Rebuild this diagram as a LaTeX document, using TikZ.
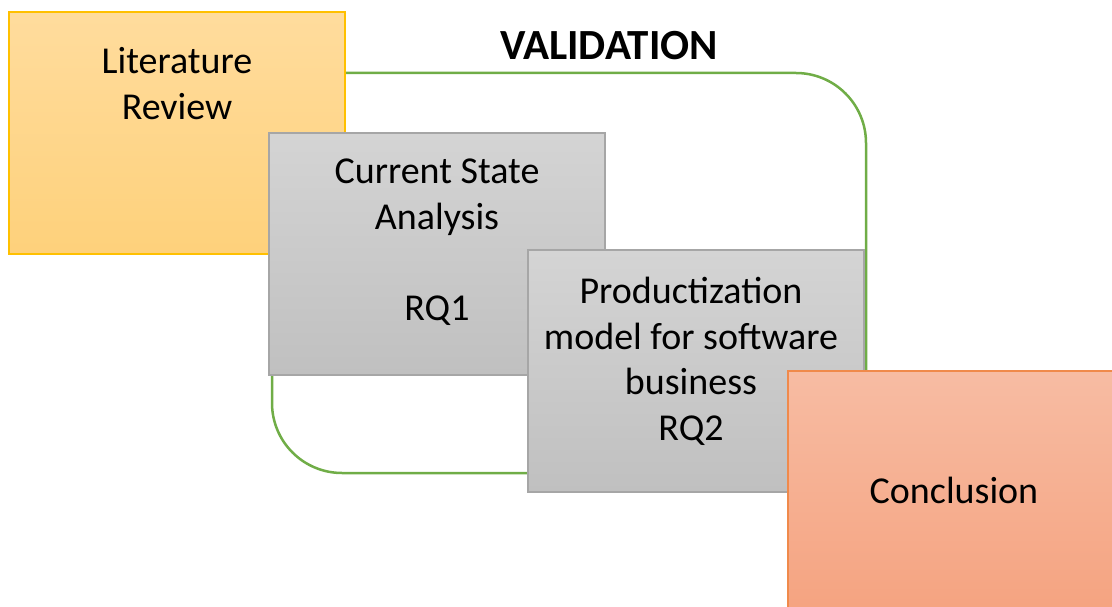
\documentclass[tikz,border=0pt]{standalone}
\usepackage{fontspec}
\setmainfont{Carlito}
\definecolor{verde}{HTML}{70AD47}
\definecolor{amarillo}{HTML}{FFC000}
\definecolor{amarilloA}{HTML}{FFDC9D}
\definecolor{amarilloB}{HTML}{FED17B}
\definecolor{gris}{HTML}{A6A6A6}
\definecolor{grisA}{HTML}{D4D4D4}
\definecolor{grisB}{HTML}{C0C0C0}
\definecolor{naranja}{HTML}{F08A4B}
\definecolor{naranjaA}{HTML}{F7BCA3}
\definecolor{naranjaB}{HTML}{F5A380}
\begin{document}
\begin{tikzpicture}[x=1pt,y=-1pt,
	caja/.style={minimum width=336pt, minimum height=242pt, inner sep=0pt, outer sep=0pt, anchor=north west, line width=1.2pt},
	texto/.style={anchor=base, align=center, inner sep=0pt, font=\fontsize{38}{45.5}\selectfont}]
	\useasboundingbox (0,0) rectangle (1112,607);
	
	% Marco de validación
	\node[draw=verde, line width=2.5pt, rounded corners=70pt, minimum width=594pt, minimum height=400pt,
		inner sep=0pt, outer sep=0pt, anchor=north west] (marco) at (272,73) {};
	\node[texto, font=\fontsize{43}{45}\selectfont\bfseries] (titulo) at (609,60) {VALIDATION};
	
	% Revisión de literatura
	\node[caja, draw=amarillo, top color=amarilloA, bottom color=amarilloB] (litrev) at (9,12) {};
	\node[texto] (litrevtxt) at (177,119.5) {Literature\\Review};
	
	% Estado actual
	\node[caja, draw=gris, top color=grisA, bottom color=grisB] (actual) at (269,133) {};
	\node[texto] (actualtxt) at (437,320) {Current State\\Analysis\\[45.5pt]RQ1};
	
	% Modelo de productización
	\node[caja, draw=gris, top color=grisA, bottom color=grisB] (modelo) at (528,250) {};
	\node[texto] (modelotxt) at (691,440) {Productization\\model for software\\business\\RQ2};
	
	% Conclusión
	\node[caja, draw=naranja, top color=naranjaA, bottom color=naranjaB] (concl) at (788,371) {};
	\node[texto] (concltxt) at (954,503) {Conclusion};
\end{tikzpicture}
\end{document}
